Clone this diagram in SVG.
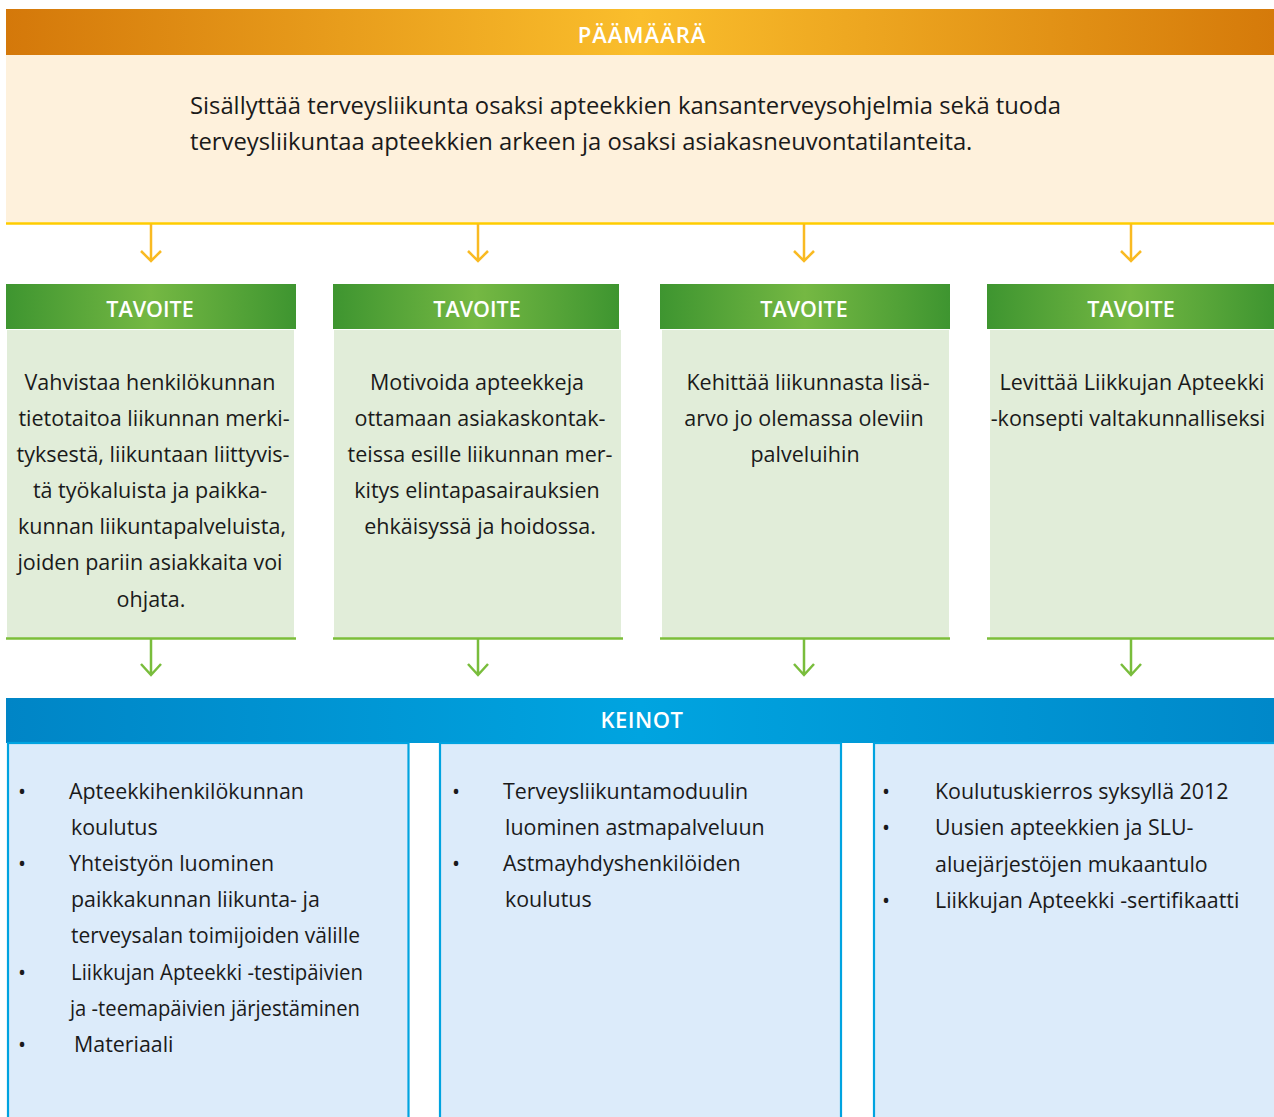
<svg xmlns="http://www.w3.org/2000/svg" width="1274" height="1117" viewBox="0 0 1274 1117">
<defs>
<linearGradient id="gOrange" x1="0" y1="0" x2="1" y2="0">
<stop offset="0" stop-color="#D4780A"/><stop offset="0.5" stop-color="#FABE2C"/><stop offset="1" stop-color="#D57A0A"/>
</linearGradient>
<linearGradient id="gGreen" x1="0" y1="0" x2="1" y2="0">
<stop offset="0" stop-color="#3E9530"/><stop offset="0.5" stop-color="#75B843"/><stop offset="1" stop-color="#3E9530"/>
</linearGradient>
<linearGradient id="gBlue" x1="0" y1="0" x2="1" y2="0">
<stop offset="0" stop-color="#0085C6"/><stop offset="0.5" stop-color="#00A4E0"/><stop offset="1" stop-color="#0088C9"/>
</linearGradient>
</defs>
<style>
text{font-family:"Open Sans","Noto Sans","Liberation Sans",sans-serif;fill:#1a1a1a}
.hd{fill:#ffffff;font-weight:600;font-size:21.5px;text-anchor:middle}
.main{font-size:23.8px}
.tv{font-size:21.5px;text-anchor:middle}
.kn{font-size:21.4px}
.tvbody{fill:#E1EDD9}
.knbody{fill:#DCEBFA;stroke:#00A3E0;stroke-width:2.2}
.yarr{fill:none;stroke:#F9BA22;stroke-width:2.5}
.garr{fill:none;stroke:#79BD3C;stroke-width:2.5}
.gline{stroke:#7CBE3A;stroke-width:2.5}
</style>

<g id="paamaara">
<rect x="6" y="9" width="1268" height="46" fill="url(#gOrange)"/>
<rect x="6" y="55" width="1268" height="168" fill="#FEF1DC"/>
<line x1="6" y1="223.5" x2="1274" y2="223.5" stroke="#FFCC00" stroke-width="2.5"/>
<text class="hd" x="642" y="43" style="font-size:22px;letter-spacing:1px">PÄÄMÄÄRÄ</text>
<text class="main" x="190" y="114">Sisällyttää terveysliikunta osaksi apteekkien kansanterveysohjelmia sekä tuoda</text>
<text class="main" x="190" y="150">terveysliikuntaa apteekkien arkeen ja osaksi asiakasneuvontatilanteita.</text>
</g>

<g id="tavoite1">
<rect x="6" y="284" width="290" height="45" fill="url(#gGreen)"/>
<rect x="7" y="330" width="287" height="308" class="tvbody"/>
<line x1="6" y1="638.5" x2="296" y2="638.5" class="gline"/>
<text class="hd" x="150" y="317">TAVOITE</text>
<text class="tv" x="150" y="390">Vahvistaa henkilökunnan</text>
<text class="tv" x="154" y="426">tietotaitoa liikunnan merki-</text>
<text class="tv" x="153" y="462">tyksestä, liikuntaan liittyvis-</text>
<text class="tv" x="150" y="498">tä työkaluista ja paikka-</text>
<text class="tv" x="152" y="534">kunnan liikuntapalveluista,</text>
<text class="tv" x="150" y="570">joiden pariin asiakkaita voi</text>
<text class="tv" x="151" y="607">ohjata.</text>
</g>

<g id="tavoite2">
<rect x="333" y="284" width="286" height="45" fill="url(#gGreen)"/>
<rect x="334" y="330" width="287" height="308" class="tvbody"/>
<line x1="333" y1="638.5" x2="623" y2="638.5" class="gline"/>
<text class="hd" x="477" y="317">TAVOITE</text>
<text class="tv" x="477" y="390">Motivoida apteekkeja</text>
<text class="tv" x="480" y="426">ottamaan asiakaskontak-</text>
<text class="tv" x="480" y="462">teissa esille liikunnan mer-</text>
<text class="tv" x="477" y="498">kitys elintapasairauksien</text>
<text class="tv" x="480" y="534">ehkäisyssä ja hoidossa.</text>
</g>

<g id="tavoite3">
<rect x="660" y="284" width="290" height="45" fill="url(#gGreen)"/>
<rect x="662" y="330" width="287" height="308" class="tvbody"/>
<line x1="660" y1="638.5" x2="950" y2="638.5" class="gline"/>
<text class="hd" x="804" y="317">TAVOITE</text>
<text class="tv" x="808" y="390">Kehittää liikunnasta lisä-</text>
<text class="tv" x="804" y="426">arvo jo olemassa oleviin</text>
<text class="tv" x="805" y="462">palveluihin</text>
</g>

<g id="tavoite4">
<rect x="987" y="284" width="287" height="45" fill="url(#gGreen)"/>
<rect x="990" y="330" width="284" height="308" class="tvbody"/>
<line x1="987" y1="638.5" x2="1274" y2="638.5" class="gline"/>
<text class="hd" x="1131" y="317">TAVOITE</text>
<text class="tv" x="1132" y="390">Levittää Liikkujan Apteekki</text>
<text class="tv" x="1128" y="426">-konsepti valtakunnalliseksi</text>
</g>

<g id="keinot">
<rect x="6" y="698" width="1268" height="45" fill="url(#gBlue)"/>
<text class="hd" x="642" y="728" style="font-size:22px;letter-spacing:0.5px">KEINOT</text>
</g>

<g id="keinot1">
<rect x="8" y="743" width="400.5" height="380" class="knbody"/>
<text class="kn" x="18" y="799">•</text>
<text class="kn" x="69" y="799">Apteekkihenkilökunnan</text>
<text class="kn" x="71" y="835">koulutus</text>
<text class="kn" x="18" y="871">•</text>
<text class="kn" x="69" y="871">Yhteistyön luominen</text>
<text class="kn" x="71" y="907">paikkakunnan liikunta- ja</text>
<text class="kn" x="71" y="943" textLength="289" lengthAdjust="spacingAndGlyphs">terveysalan toimijoiden välille</text>
<text class="kn" x="18" y="980">•</text>
<text class="kn" x="71" y="980" textLength="292" lengthAdjust="spacingAndGlyphs">Liikkujan Apteekki -testipäivien</text>
<text class="kn" x="70" y="1016" textLength="290" lengthAdjust="spacingAndGlyphs">ja -teemapäivien järjestäminen</text>
<text class="kn" x="18" y="1052">•</text>
<text class="kn" x="74" y="1052">Materiaali</text>
</g>

<g id="keinot2">
<rect x="440" y="743" width="401" height="380" class="knbody"/>
<text class="kn" x="452" y="799">•</text>
<text class="kn" x="503" y="799">Terveysliikuntamoduulin</text>
<text class="kn" x="505" y="835">luominen astmapalveluun</text>
<text class="kn" x="452" y="871">•</text>
<text class="kn" x="503" y="871">Astmayhdyshenkilöiden</text>
<text class="kn" x="505" y="907">koulutus</text>
</g>

<g id="keinot3">
<rect x="874" y="743" width="402" height="380" class="knbody"/>
<text class="kn" x="882" y="799">•</text>
<text class="kn" x="935" y="799">Koulutuskierros syksyllä 2012</text>
<text class="kn" x="882" y="835">•</text>
<text class="kn" x="935" y="835">Uusien apteekkien ja SLU-</text>
<text class="kn" x="935" y="872">aluejärjestöjen mukaantulo</text>
<text class="kn" x="882" y="908">•</text>
<text class="kn" x="935" y="908">Liikkujan Apteekki -sertifikaatti</text>
</g>

<g id="connectors">
<path class="yarr" d="M151 224 V261 M141 251 L151 261 L161 251"/>
<path class="yarr" d="M478 224 V261 M468 251 L478 261 L488 251"/>
<path class="yarr" d="M804 224 V261 M794 251 L804 261 L814 251"/>
<path class="yarr" d="M1131 224 V261 M1121 251 L1131 261 L1141 251"/>
<path class="garr" d="M151 639 V675 M141 664 L151 675 L161 664"/>
<path class="garr" d="M478 639 V675 M468 664 L478 675 L488 664"/>
<path class="garr" d="M804 639 V675 M794 664 L804 675 L814 664"/>
<path class="garr" d="M1131 639 V675 M1121 664 L1131 675 L1141 664"/>
</g>
</svg>
